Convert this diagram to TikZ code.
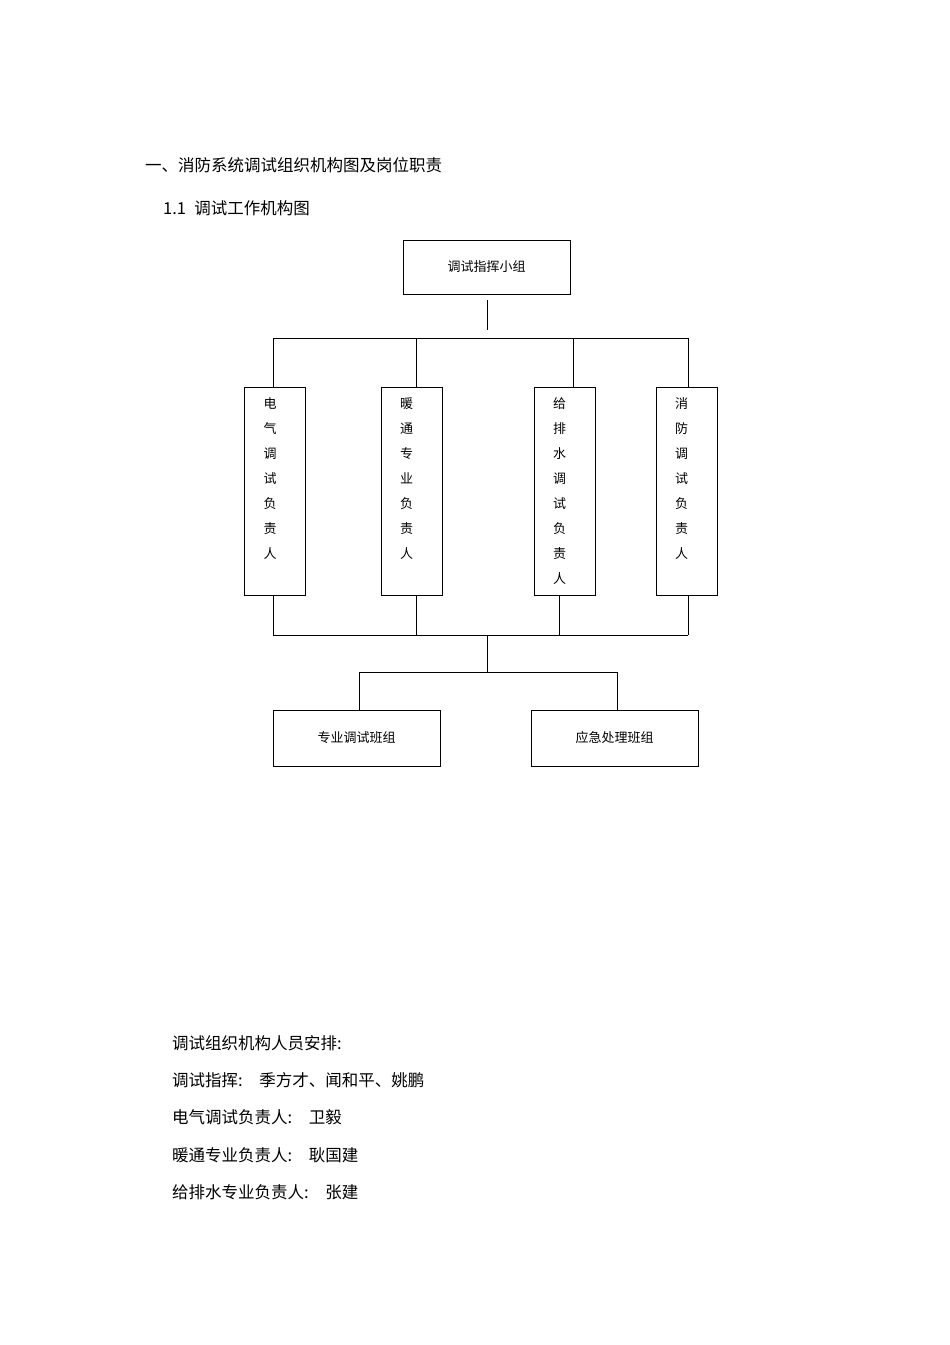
\documentclass[tikz,border=0pt]{standalone}
\usepackage{fontspec}
\setmainfont{Liberation Sans}
\newfontfamily\cjk{Noto Sans CJK SC}
\begin{document}
\begin{tikzpicture}[x=1pt,y=-1pt,
  box/.style={draw,line width=0.8pt,minimum width=#1,inner sep=0pt,font=\cjk\fontsize{13}{13}\selectfont},
  ln/.style={line width=0.8pt},
  tx/.style={anchor=west,inner sep=0pt,font=\cjk\fontsize{16.5}{18}\selectfont}]
\useasboundingbox (0,0) rectangle (950,1345);
\node[tx] (t1) at (145,165) {一、消防系统调试组织机构图及岗位职责};
\node[tx] (t2) at (163,208) {1.1\enspace 调试工作机构图};
\node[box=167pt,minimum height=54pt] (top) at (486.5,267) {调试指挥小组};
\foreach \n/\x/\t in {a/275/{电\\气\\调\\试\\负\\责\\人},b/411.5/{暖\\通\\专\\业\\负\\责\\人},c/564.5/{给\\排\\水\\调\\试\\负\\责\\人},d/686.5/{消\\防\\调\\试\\负\\责\\人}}{
  \node[draw,line width=0.8pt,minimum width=61pt,minimum height=208pt] (\n) at (\x,491) {};
  \node[anchor=north,align=center,inner sep=0pt,font=\cjk\fontsize{13}{25}\selectfont] (\n t) at (\x-5,397) {\t};
}
\node[box=167pt,minimum height=56pt] (e) at (356.5,738) {专业调试班组};
\node[box=167pt,minimum height=56pt] (f) at (614.5,738) {应急处理班组};
\coordinate (j1) at (487,338);
\coordinate (j2) at (487,635);
\coordinate (j3) at (487,672);
\draw[ln] (487,300) -- (487,330);
\draw[ln] (273,338) -- (688,338);
\foreach \x/\n in {273/a,416/b,573/c,688/d}{\draw[ln] (\x,338) -- (\x,387);}
\draw[ln] (273,635) -- (688,635);
\foreach \x in {273,416,559,688}{\draw[ln] (\x,595) -- (\x,635);}
\draw[ln] (j2) -- (j3);
\draw[ln] (359,672) -- (617,672);
\draw[ln] (359,672) -- (359,710);
\draw[ln] (617,672) -- (617,710);
\node[tx] (p1) at (172,1043) {调试组织机构人员安排:};
\node[tx] (p2) at (172,1080) {调试指挥:\quad 季方才、闻和平、姚鹏};
\node[tx] (p3) at (172,1117) {电气调试负责人:\quad 卫毅};
\node[tx] (p4) at (172,1155) {暖通专业负责人:\quad 耿国建};
\node[tx] (p5) at (172,1192) {给排水专业负责人:\quad 张建};
\end{tikzpicture}
\end{document}
